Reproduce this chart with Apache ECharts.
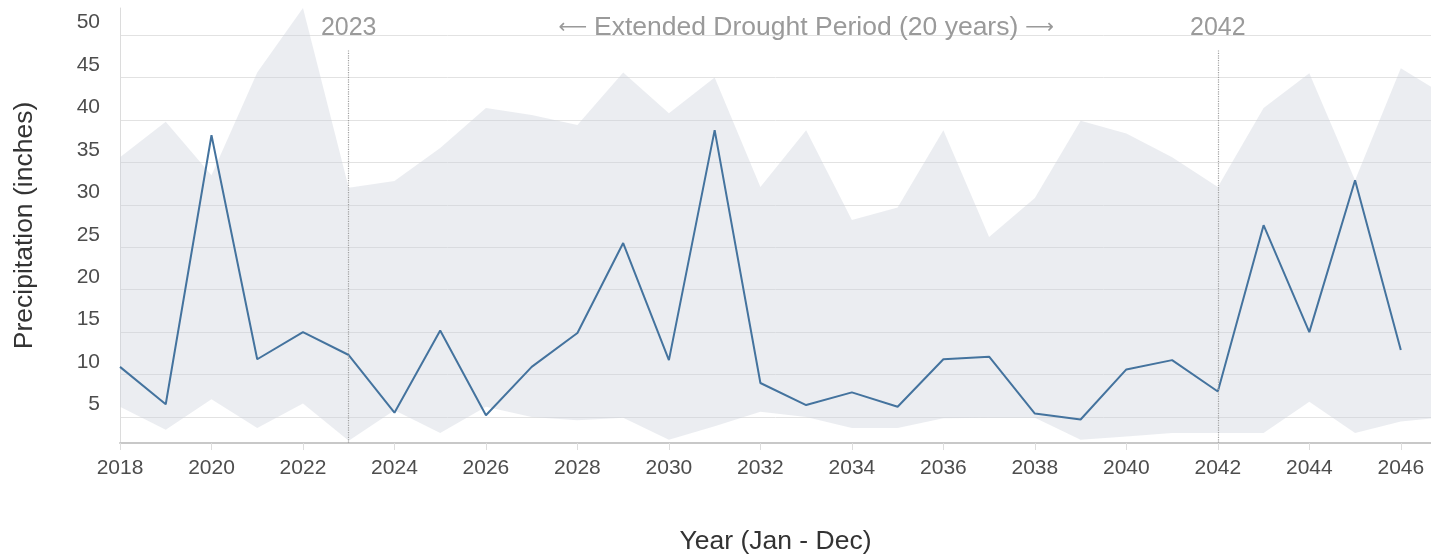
<!DOCTYPE html>
<html>
<head>
<meta charset="utf-8">
<title>Precipitation</title>
<script src="https://cdn.jsdelivr.net/npm/echarts@6/dist/echarts.min.js"></script>
<style>
  html, body { margin: 0; padding: 0; background: #ffffff; }
  #chart { width: 1431px; height: 558px; }
</style>
</head>
<body>
<div id="chart"></div>
<script>
// Annual precipitation (inches) by year
const YEARS = [2018, 2019, 2020, 2021, 2022, 2023, 2024, 2025, 2026, 2027,
               2028, 2029, 2030, 2031, 2032, 2033, 2034, 2035, 2036, 2037,
               2038, 2039, 2040, 2041, 2042, 2043, 2044, 2045, 2046];
const PRECIP = [10.9, 6.5, 38.2, 11.8, 15.0, 12.3, 5.5, 15.2, 5.2, 10.9,
                14.9, 25.5, 11.7, 38.8, 9.0, 6.4, 7.9, 6.2, 11.8, 12.1,
                5.4, 4.7, 10.6, 11.7, 8.0, 27.6, 15.0, 32.9, 12.9];

// Range band (low / high) per year
const BAND_YEARS = [2018, 2019, 2020, 2021, 2022, 2023, 2024, 2025, 2026, 2027,
                    2028, 2029, 2030, 2031, 2032, 2033, 2034, 2035, 2036, 2037,
                    2038, 2039, 2040, 2041, 2042, 2043, 2044, 2045, 2046, 2047];
const BAND_HIGH = [35.6, 39.8, 33.5, 45.6, 53.2, 32.0, 32.8, 36.7, 41.4, 40.6,
                   39.4, 45.6, 40.8, 45.0, 32.1, 38.8, 28.2, 29.7, 38.8, 26.2,
                   30.8, 39.9, 38.4, 35.6, 32.1, 41.4, 45.5, 32.9, 46.1, 42.8];
const BAND_LOW = [6.2, 3.5, 7.1, 3.7, 6.6, 2.2, 5.8, 3.1, 6.2, 5.0,
                  4.6, 4.9, 2.3, 3.9, 5.6, 5.0, 3.7, 3.7, 4.85, 4.9,
                  4.9, 2.3, 2.7, 3.1, 3.1, 3.1, 6.8, 3.1, 4.45, 5.0];

// Drought period markers and labels
const PERIOD_YEARS = [2023, 2042];
const PERIOD_TEXT = 'Extended Drought Period (20 years)';
const PERIOD_MID = 2033;

// Axis extents
const X_MIN = 2018, X_MAX = 2046.66;
const Y_MIN = 1.93, Y_MAX = 53.2;
const MARK_TOP = 48.2;   // top end of the dotted period lines
const LABEL_Y = 50.85;   // level of the text above the plot

const FONT = "'Liberation Sans', Arial, Helvetica, sans-serif";

const chart = echarts.init(document.getElementById('chart'), null, { renderer: 'canvas' });

const bandRows = BAND_YEARS.map((y, i) => [y, BAND_LOW[i], BAND_HIGH[i]]);
const linePairs = YEARS.map((y, i) => [y, PRECIP[i]]);

// One filled polygon between the low and high edges of the band
function renderBand(params, api) {
  if (params.dataIndex !== 0) return null;
  const top = bandRows.map(r => api.coord([r[0], r[2]]));
  const bottom = bandRows.slice().reverse().map(r => api.coord([r[0], r[1]]));
  return {
    type: 'polygon',
    shape: { points: top.concat(bottom) },
    style: { fill: 'rgba(205, 211, 220, 0.4)', stroke: null },
    silent: true
  };
}

chart.setOption({
  animation: false,
  textStyle: { fontFamily: FONT },
  grid: {
    left: 120, right: 0, top: 8, bottom: 115,
    containLabel: false,
    outerBoundsMode: 'none'
  },
  xAxis: {
    type: 'value',
    min: X_MIN,
    max: X_MAX,
    splitNumber: 14,
    minInterval: 2,
    maxInterval: 2,
    name: 'Year (Jan - Dec)',
    nameLocation: 'middle',
    nameGap: 85,
    nameTextStyle: { fontSize: 26.5, color: '#333333', fontFamily: FONT },
    axisLine: { show: true, lineStyle: { color: '#c8c8c8', width: 2 } },
    axisTick: { show: true, length: 7, lineStyle: { color: '#dddddd' } },
    axisLabel: {
      showMaxLabel: false,
      margin: 15,
      fontSize: 21,
      color: '#4d4d4d',
      fontFamily: FONT,
      formatter: v => String(v)
    },
    splitLine: { show: false }
  },
  yAxis: {
    type: 'value',
    min: Y_MIN,
    max: Y_MAX,
    splitNumber: 10,
    minInterval: 5,
    maxInterval: 5,
    name: 'Precipitation (inches)',
    nameLocation: 'middle',
    nameGap: 82,
    nameTextStyle: { fontSize: 26.5, color: '#333333', fontFamily: FONT },
    axisLine: { show: true, lineStyle: { color: '#dcdcdc', width: 1 } },
    axisTick: { show: false },
    axisLabel: {
      showMinLabel: false,
      showMaxLabel: false,
      margin: 20,
      fontSize: 21,
      color: '#4d4d4d',
      fontFamily: FONT,
      verticalAlign: 'bottom',
      lineHeight: 21,
      padding: [0, 0, 2, 0]
    },
    splitLine: {
      show: true,
      showMinLine: false,
      showMaxLine: false,
      lineStyle: { color: '#e2e2e2', width: 1 }
    }
  },
  series: [
    {
      name: 'Range',
      type: 'custom',
      data: bandRows,
      encode: { x: 0, y: [1, 2] },
      renderItem: renderBand,
      silent: true,
      z: 1
    },
    {
      name: 'Precipitation',
      type: 'line',
      data: linePairs,
      symbol: 'none',
      lineStyle: { color: '#44739e', width: 2 },
      z: 3,
      markLine: {
        silent: true,
        symbol: ['none', 'none'],
        label: { show: false },
        lineStyle: { type: 'dotted', color: '#a0a0a0', width: 1.2 },
        data: PERIOD_YEARS.map(y => [{ coord: [y, MARK_TOP] }, { coord: [y, Y_MIN] }])
      },
      markPoint: {
        silent: true,
        symbol: 'circle',
        symbolSize: 1,
        itemStyle: { color: 'rgba(0,0,0,0)' },
        label: {
          show: true,
          position: 'inside',
          color: '#9a9a9a',
          fontSize: 25,
          fontFamily: FONT,
          formatter: p => p.name,
          rich: {
            t: { fontSize: 26.5, color: '#9a9a9a', fontFamily: FONT },
            a: { fontSize: 20, color: '#9a9a9a', fontFamily: "'DejaVu Sans', sans-serif" }
          }
        },
        data: PERIOD_YEARS.map(y => ({ name: String(y), coord: [y, LABEL_Y] }))
          .concat([{
            name: 'period',
            coord: [PERIOD_MID, LABEL_Y],
            label: { formatter: '{a|\u27F5} {t|' + PERIOD_TEXT + '} {a|\u27F6}' }
          }])
      }
    }
  ]
});
</script>
</body>
</html>
